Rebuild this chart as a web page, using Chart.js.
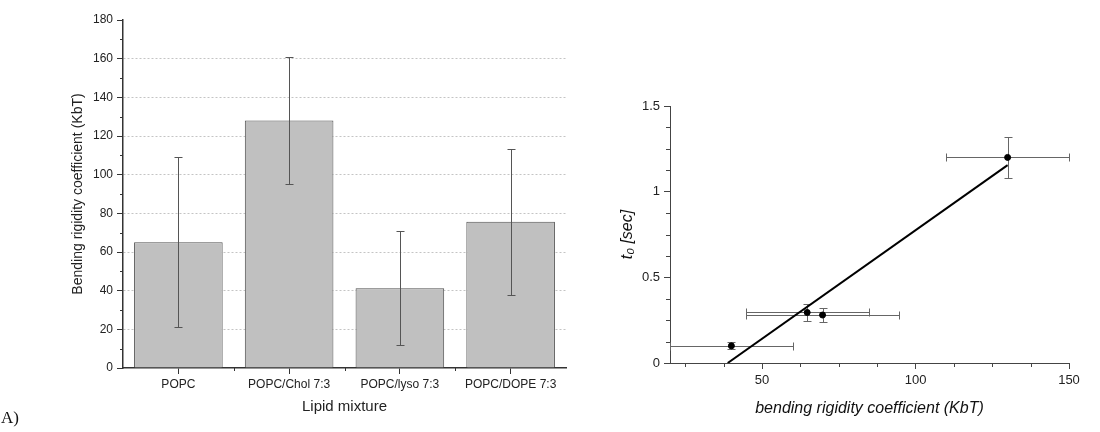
<!DOCTYPE html>
<html>
<head>
<meta charset="utf-8">
<script src="https://cdn.jsdelivr.net/npm/chart.js@4"></script>
<style>
    body { margin: 0; background: #fff; width: 1100px; height: 432px; position: relative; overflow: hidden; }
    #left { position: absolute; left: 0; top: 0; width: 580px; height: 432px; }
    #right { position: absolute; left: 580px; top: 0; width: 520px; height: 432px; }
    #tag { position: absolute; left: 1px; top: 408px; font: 17px "Liberation Serif", serif; color: #111; }
</style>
</head>
<body>
<div id="left"><canvas id="bars"></canvas></div>
<div id="right"><canvas id="fit"></canvas></div>
<div id="tag">A)</div>
<script>
// Graphique A : rigidité par mélange lipidique
const mixtures = ['POPC', 'POPC/Chol 7:3', 'POPC/lyso 7:3', 'POPC/DOPE 7:3'];
const rigidity = [65, 128, 41.3, 75.6];
const rigidityErr = [44, 33, 29.5, 37.8];
const barMinorTicks = [10, 30, 50, 70, 90, 110, 130, 150, 170];
const barBoundaryTicks = [0.5, 1.5, 2.5];

// Graphique B : t0 en fonction de la rigidité
const kappa = [40, 64.7, 69.7, 130];
const kappaErr = [20, 20, 25, 20];
const t0 = [0.1, 0.295, 0.28, 1.2];
const t0Err = [0.02, 0.05, 0.04, 0.12];
const fitX = [38.8, 130];
const fitY = [0, 1.155];
const kappaTicks = [50, 100, 150];
const kappaMinorTicks = [25, 37.5, 62.5, 75, 87.5, 112.5, 125, 137.5];
const t0MinorTicks = [0.125, 0.25, 0.375, 0.625, 0.75, 0.875, 1.125, 1.25, 1.375];

const font = '"Liberation Sans", Arial, sans-serif';

// Barres d'erreur dessinées à partir des échelles du graphique
function makeErrorBars(cfg) {
    function draw(chart) {
        const ctx = chart.ctx;
        const sx = chart.scales.x, sy = chart.scales.y;
        const c = cfg.cap;
        const seg = (x1, y1, x2, y2) => { ctx.beginPath(); ctx.moveTo(x1, y1); ctx.lineTo(x2, y2); ctx.stroke(); };
        const px = v => Math.round(sx.getPixelForValue(v)) + 0.5;
        const py = v => Math.round(sy.getPixelForValue(v)) + 0.5;
        ctx.save();
        ctx.strokeStyle = cfg.color;
        ctx.lineWidth = 1;
        cfg.xs.forEach((xv, i) => {
            const x = px(xv), y = py(cfg.ys[i]);
            if (cfg.dy) {
                const a = py(cfg.ys[i] - cfg.dy[i]), b = py(cfg.ys[i] + cfg.dy[i]);
                seg(x, a, x, b); seg(x - c, a, x + c, a); seg(x - c, b, x + c, b);
            }
            if (cfg.dx) {
                const a = px(xv - cfg.dx[i]), b = px(xv + cfg.dx[i]);
                seg(a, y, b, y); seg(a, y - c, a, y + c); seg(b, y - c, b, y + c);
            }
        });
        ctx.restore();
    }
    return {
        id: 'errorBars',
        beforeDatasetsDraw(chart) { if (cfg.behind) draw(chart); },
        afterDatasetsDraw(chart) { if (!cfg.behind) draw(chart); }
    };
}

// Petites graduations secondaires
function makeMinorTicks(axes, color) {
    return {
        id: 'minorTicks',
        afterDraw(chart) {
            const ctx = chart.ctx;
            ctx.save();
            ctx.strokeStyle = color;
            ctx.lineWidth = 1;
            axes.forEach(a => {
                const s = chart.scales[a.id];
                a.values.forEach(v => {
                    const p = Math.round(s.getPixelForValue(v)) + 0.5;
                    ctx.beginPath();
                    if (s.isHorizontal()) { ctx.moveTo(p, s.top); ctx.lineTo(p, s.top + a.len); }
                    else { ctx.moveTo(s.right, p); ctx.lineTo(s.right - a.len, p); }
                    ctx.stroke();
                });
            });
            ctx.restore();
        }
    };
}

// Graphique en barres
new Chart(document.getElementById('bars'), {
    type: 'bar',
    data: {
        labels: mixtures,
        datasets: [{
            data: rigidity,
            backgroundColor: '#c0c0c0',
            borderColor: '#505050',
            borderWidth: 1,
            categoryPercentage: 0.8,
            barPercentage: 1
        }]
    },
    options: {
        responsive: true,
        maintainAspectRatio: false,
        animation: false,
        layout: { padding: { left: 0, right: 14, top: 20, bottom: 14 } },
        plugins: { legend: { display: false }, tooltip: { enabled: false } },
        scales: {
            x: {
                grid: { display: true, drawOnChartArea: false, offset: false, tickLength: 6, tickColor: '#333' },
                border: { color: '#333', width: 1.5 },
                ticks: { color: '#222', font: { family: font, size: 12 }, padding: 3, maxRotation: 0 },
                title: { display: true, text: 'Lipid mixture', color: '#222', font: { family: font, size: 15 }, padding: { top: 0, bottom: 2 } },
                afterFit: s => { s.height = 50; }
            },
            y: {
                min: 0,
                max: 180,
                ticks: { stepSize: 20, color: '#222', font: { family: font, size: 12 }, padding: 4 },
                grid: {
                    color: c => (c.tick && (c.tick.value === 0 || c.tick.value === 180)) ? 'rgba(0,0,0,0)' : '#c4c4c4',
                    tickColor: '#333',
                    tickLength: 6
                },
                border: { color: '#333', width: 1.5, dash: [2, 2] },
                title: { display: true, text: 'Bending rigidity coefficient (KbT)', color: '#222', font: { family: font, size: 14 }, padding: { top: 70, bottom: 0 } },
                afterFit: s => { s.width = 123; }
            }
        }
    },
    plugins: [
        makeErrorBars({ xs: mixtures.map((m, i) => i), ys: rigidity, dy: rigidityErr, cap: 4, color: '#555' }),
        makeMinorTicks([
            { id: 'y', values: barMinorTicks, len: 3 },
            { id: 'x', values: barBoundaryTicks, len: 3 }
        ], '#333')
    ]
});

// Nuage de points + ajustement linéaire
new Chart(document.getElementById('fit'), {
    type: 'scatter',
    data: {
        datasets: [
            {
                type: 'line',
                data: fitX.map((x, i) => ({ x: x, y: fitY[i] })),
                borderColor: '#000',
                borderWidth: 2,
                pointRadius: 0,
                fill: false
            },
            {
                data: kappa.map((x, i) => ({ x: x, y: t0[i] })),
                backgroundColor: '#000',
                borderColor: '#000',
                pointRadius: 3
            }
        ]
    },
    options: {
        responsive: true,
        maintainAspectRatio: false,
        animation: false,
        layout: { padding: { left: 0, right: 31, top: 106, bottom: 14 } },
        plugins: { legend: { display: false }, tooltip: { enabled: false } },
        scales: {
            x: {
                type: 'linear',
                min: 20,
                max: 150,
                afterBuildTicks: s => { s.ticks = kappaTicks.map(v => ({ value: v })); },
                ticks: { color: '#222', font: { family: font, size: 13 }, padding: 4, callback: v => String(v) },
                grid: { display: true, drawOnChartArea: false, tickLength: 6, tickColor: '#444' },
                border: { color: '#444', width: 1 },
                title: { display: true, text: 'bending rigidity coefficient (KbT)', color: '#111', font: { family: font, size: 16, style: 'italic' }, padding: { top: 0, bottom: 0 } },
                afterFit: s => { s.height = 55; }
            },
            y: {
                min: 0,
                max: 1.5,
                ticks: { stepSize: 0.5, color: '#222', font: { family: font, size: 13 }, padding: 4, callback: v => String(v) },
                grid: { display: true, drawOnChartArea: false, tickLength: 6, tickColor: '#444' },
                border: { color: '#444', width: 1 },
                title: { display: true, text: 't₀ [sec]', color: '#111', font: { family: font, size: 16, style: 'italic' }, padding: { top: 38, bottom: 0 } },
                afterFit: s => { s.width = 90; }
            }
        }
    },
    plugins: [
        makeErrorBars({ xs: kappa, ys: t0, dx: kappaErr, dy: t0Err, cap: 4, color: '#666', behind: true }),
        makeMinorTicks([
            { id: 'x', values: kappaMinorTicks, len: 4 },
            { id: 'y', values: t0MinorTicks, len: 4 }
        ], '#444')
    ]
});
</script>
</body>
</html>
